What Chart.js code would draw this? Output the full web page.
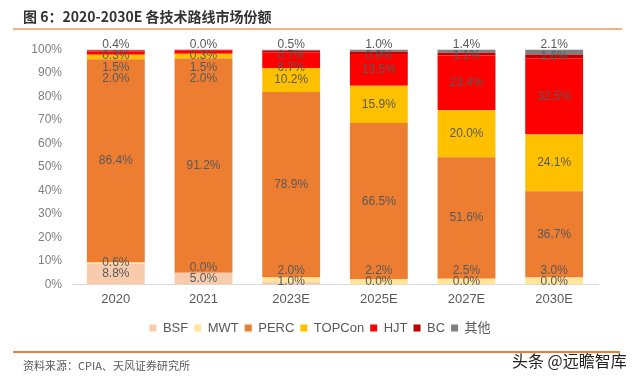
<!DOCTYPE html>
<html>
<head>
<meta charset="utf-8">
<script src="https://cdn.jsdelivr.net/npm/chart.js@4.4.1/dist/chart.umd.min.js"></script>
<style>
  body { margin: 0; background: #fff; }
  #wrap { position: relative; width: 640px; height: 379px; overflow: hidden; }
  #chart { position: absolute; left: 0; top: 0; }
  .title { position: absolute; left: 23px; top: 6px; line-height: 20px; font-size: 14px; font-weight: bold; color: #333; font-family: 'Noto Sans CJK SC', sans-serif; }
  .rule-top { position: absolute; left: 13px; top: 28px; width: 609px; height: 2px; background: #F4B183; }
  .rule-bottom { position: absolute; left: 13px; top: 351px; width: 607px; height: 1.5px; background: #ED7D31; }
  .source { position: absolute; left: 23px; top: 358px; line-height: 14px; font-size: 11px; color: #595959; font-family: 'Noto Sans CJK SC', sans-serif; }
  .mark { position: absolute; left: 512px; top: 351px; line-height: 18px; font-size: 16px; color: #222; font-family: 'Noto Sans CJK SC', sans-serif; }
</style>
</head>
<body>
<div id="wrap">
  <canvas id="chart" width="640" height="379"></canvas>
  <div class="title">图 6：2020-2030E 各技术路线市场份额</div>
  <div class="rule-top"></div>
  <div class="rule-bottom"></div>
  <div class="source">资料来源：CPIA、天风证券研究所</div>
  <div class="mark">头条 @远瞻智库</div>
</div>
<script>
const years = ['2020', '2021', '2023E', '2025E', '2027E', '2030E'];
const seriesNames = ['BSF', 'MWT', 'PERC', 'TOPCon', 'HJT', 'BC', '其他'];
const seriesColors = ['#F8CBAD', '#FFE699', '#ED7D31', '#FFC000', '#FF0000', '#C00000', '#7F7F7F'];

const bsf = [8.8, 5.0, 1.0, 0.0, 0.0, 0.0];
const mwt = [0.6, 0.0, 2.0, 2.2, 2.5, 3.0];
const perc = [86.4, 91.2, 78.9, 66.5, 51.6, 36.7];
const topcon = [2.0, 2.0, 10.2, 15.9, 20.0, 24.1];
const hjt = [1.5, 1.5, 6.7, 13.5, 23.4, 32.5];
const bc = [0.3, 0.3, 0.7, 0.9, 1.1, 1.6];
const other = [0.4, 0.0, 0.5, 1.0, 1.4, 2.1];

const yTicks = [0, 10, 20, 30, 40, 50, 60, 70, 80, 90, 100];

const seriesValues = [bsf, mwt, perc, topcon, hjt, bc, other];
const font = "'Liberation Sans', 'Noto Sans CJK SC', sans-serif";

// value labels, pushed apart roughly like the Excel original
const barLabels = {
  id: 'barLabels',
  afterDatasetsDraw(chart) {
    const ctx = chart.ctx;
    const n = chart.data.datasets.length;
    ctx.save();
    ctx.font = '12px ' + font;
    ctx.fillStyle = '#595959';
    ctx.textAlign = 'center';
    ctx.textBaseline = 'middle';
    years.forEach((yr, i) => {
      const els = [];
      for (let k = 0; k < n; k++) els.push(chart.getDatasetMeta(k).data[i]);
      const mid = els.map(e => (e.y + e.base) / 2);
      const ys = [];
      ys[n - 1] = els[n - 1].y - 5;
      for (let k = n - 2; k >= 3; k--) ys[k] = Math.max(mid[k], ys[k + 1] + 11.5);
      ys[2] = mid[2];
      ys[0] = Math.min(mid[0], els[0].base - 3);
      ys[1] = Math.min(mid[1], ys[0] - 10.5);
      for (let k = 0; k < n; k++) {
        ctx.fillText(seriesValues[k][i].toFixed(1) + '%', els[k].x, ys[k]);
      }
    });
    ctx.restore();
  }
};

new Chart(document.getElementById('chart'), {
  type: 'bar',
  data: {
    labels: years,
    datasets: seriesNames.map((name, k) => ({
      label: name,
      data: seriesValues[k],
      backgroundColor: seriesColors[k],
      borderWidth: 0,
      categoryPercentage: 1,
      barPercentage: 0.66
    }))
  },
  options: {
    responsive: false,
    animation: false,
    layout: { padding: { left: 0, right: 0, top: 49.5, bottom: 34.5 } },
    scales: {
      x: {
        stacked: true,
        grid: { display: false, drawTicks: false },
        border: { display: true, color: '#D9D9D9', width: 1 },
        ticks: { color: '#595959', font: { size: 13, family: font }, padding: 7 },
        afterFit(s) { s.height = 31; }
      },
      y: {
        stacked: true,
        min: 0,
        max: 100,
        afterBuildTicks(s) { s.ticks = yTicks.map(v => ({ value: v })); },
        grid: { display: false, drawTicks: false },
        border: { display: false },
        ticks: { color: '#7F7F7F', font: { size: 12, family: font }, padding: 10, callback: v => v + '%' },
        afterFit(s) { s.width = 72; }
      },
      // empty right gutter so the legend stays centred on the page
      gutter: {
        position: 'right',
        grid: { display: false },
        border: { display: false },
        ticks: { display: false },
        afterFit(s) { s.width = 42; }
      }
    },
    plugins: {
      legend: {
        position: 'bottom',
        labels: { boxWidth: 7, boxHeight: 7, padding: 6, color: '#595959', font: { size: 13, family: font } }
      },
      tooltip: { enabled: false }
    }
  },
  plugins: [barLabels]
});
</script>
</body>
</html>
